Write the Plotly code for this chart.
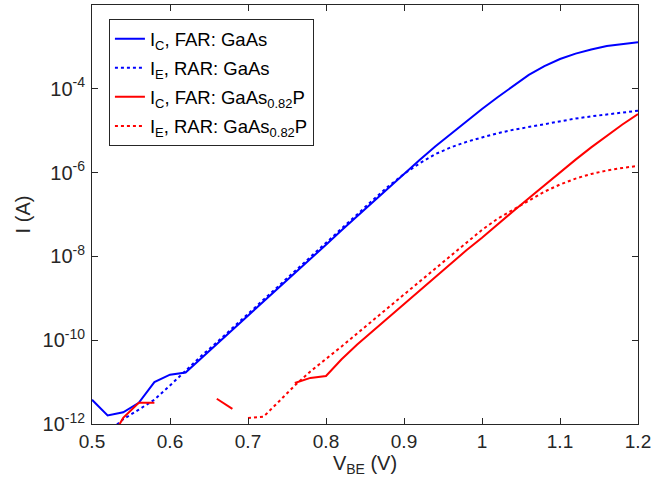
import plotly.graph_objects as go

vbe = [0.50, 0.52, 0.54, 0.56, 0.58, 0.60, 0.62, 0.64, 0.66, 0.68,
       0.70, 0.72, 0.74, 0.76, 0.78, 0.80, 0.82, 0.84, 0.86, 0.88,
       0.90, 0.92, 0.94, 0.96, 0.98, 1.00, 1.02, 1.04, 1.06, 1.08,
       1.10, 1.12, 1.14, 1.16, 1.18, 1.20]

ic_gaas = [3.8e-12, 1.6e-12, 1.9e-12, 3.2e-12, 1.0e-11, 1.5e-11, 1.7e-11, 3.7e-11, 7.9e-11, 1.7e-10,
           3.8e-10, 8.3e-10, 1.8e-9, 4.0e-9, 8.7e-9, 1.9e-8, 4.2e-8, 9.1e-8, 2.0e-7, 4.4e-7,
           9.3e-7, 2.0e-6, 4.2e-6, 8.5e-6, 1.7e-5, 3.3e-5, 6.3e-5, 1.15e-4, 2.14e-4, 3.47e-4,
           5.13e-4, 6.9e-4, 8.7e-4, 1.05e-3, 1.17e-3, 1.29e-3]

ie_gaas = [None, 6.3e-13, 1.3e-12, 2.2e-12, 3.8e-12, 8.3e-12, 1.9e-11, 4.2e-11, 8.9e-11, 1.95e-10,
           4.3e-10, 9.3e-10, 2.0e-9, 4.5e-9, 9.8e-9, 2.1e-8, 4.7e-8, 1.0e-7, 2.2e-7, 4.7e-7,
           9.3e-7, 1.66e-6, 2.75e-6, 4.0e-6, 5.4e-6, 6.9e-6, 8.7e-6, 1.05e-5, 1.23e-5, 1.45e-5,
           1.7e-5, 1.95e-5, 2.2e-5, 2.45e-5, 2.75e-5, 3.0e-5]

ic_gaasp = [None, 3.2e-13, 1.4e-12, 3.2e-12, 3.2e-12, None, None, None, 4.0e-12, 2.3e-12,
            None, None, None, 9.5e-12, 1.26e-11, 1.4e-11, 3.5e-11, 7.9e-11, 1.66e-10, 3.5e-10,
            7.2e-10, 1.5e-9, 3.2e-9, 6.6e-9, 1.4e-8, 2.8e-8, 5.9e-8, 1.2e-7, 2.45e-7, 5.0e-7,
            1.02e-6, 2.04e-6, 4.0e-6, 7.6e-6, 1.41e-5, 2.5e-5]

ie_gaasp = [None, None, None, None, None, None, None, None, None, None,
            1.4e-12, 1.5e-12, 3.5e-12, 8.3e-12, 1.8e-11, 3.5e-11, 7.1e-11, 1.45e-10, 3.0e-10, 6.0e-10,
            1.23e-9, 2.5e-9, 5.1e-9, 1.05e-8, 2.1e-8, 4.3e-8, 7.9e-8, 1.3e-7, 2.2e-7, 3.5e-7,
            5.2e-7, 7.2e-7, 9.3e-7, 1.12e-6, 1.29e-6, 1.45e-6]

names = ["I<sub>C</sub>, FAR: GaAs",
         "I<sub>E</sub>, RAR: GaAs",
         "I<sub>C</sub>, FAR: GaAs<sub>0.82</sub>P",
         "I<sub>E</sub>, RAR: GaAs<sub>0.82</sub>P"]

x_ticks = [0.5, 0.6, 0.7, 0.8, 0.9, 1.0, 1.1, 1.2]
x_ticktext = ["0.5", "0.6", "0.7", "0.8", "0.9", "1", "1.1", "1.2"]
y_ticks = [1e-12, 1e-10, 1e-8, 1e-6, 1e-4]
y_ticktext = ["10<sup>-12</sup>", "10<sup>-10</sup>", "10<sup>-8</sup>", "10<sup>-6</sup>", "10<sup>-4</sup>"]

BLUE = "#0000FF"
RED = "#FF0000"
AX = "#262626"
FAM = "Liberation Sans, Arial, sans-serif"

fig = go.Figure()
series = [(ic_gaas, BLUE, "solid"), (ie_gaas, BLUE, "dot"),
          (ic_gaasp, RED, "solid"), (ie_gaasp, RED, "dot")]
for i, ((vals, col, dash), nm) in enumerate(zip(series, names)):
    fig.add_trace(go.Scatter(x=vbe, y=vals, mode="lines", name=nm,
                             legendgroup="g%d" % i,
                             line=dict(color=col, width=2, dash=dash),
                             connectgaps=False))

tfont = dict(family=FAM, size=20, color=AX)
xfont = dict(family=FAM, size=19, color=AX)

fig.update_layout(
    width=655, height=496,
    margin=dict(l=92, r=12, t=4, b=72),
    paper_bgcolor="white", plot_bgcolor="white",
    font=tfont,
    showlegend=True,
    legend=dict(x=0.031, y=0.966, xanchor="left", yanchor="top",
                bgcolor="white", bordercolor=AX, borderwidth=1,
                font=dict(family=FAM, size=18.5, color="black"),
                tracegroupgap=2),
)
fig.update_xaxes(range=[0.5, 1.2], tickvals=x_ticks, ticktext=x_ticktext,
                 showline=True, linecolor=AX, linewidth=1, mirror="ticks",
                 ticks="inside", ticklen=6, tickcolor=AX, showgrid=False, zeroline=False,
                 title=dict(text="V<sub>BE</sub> (V)", standoff=2, font=tfont),
                 tickfont=xfont, ticklabeloverflow="allow")
fig.update_yaxes(type="log", range=[-12, -2], tickvals=y_ticks, ticktext=y_ticktext,
                 showline=True, linecolor=AX, linewidth=1, mirror="ticks",
                 ticks="inside", ticklen=6, tickcolor=AX, showgrid=False, zeroline=False,
                 title=dict(text="I (A)", standoff=6, font=tfont), ticklabelstandoff=2,
                 tickfont=tfont, ticklabeloverflow="allow")

fig.write_html("out.html", config={"displayModeBar": False},
               post_script="document.body.style.margin='0';document.body.style.overflow='hidden';")
